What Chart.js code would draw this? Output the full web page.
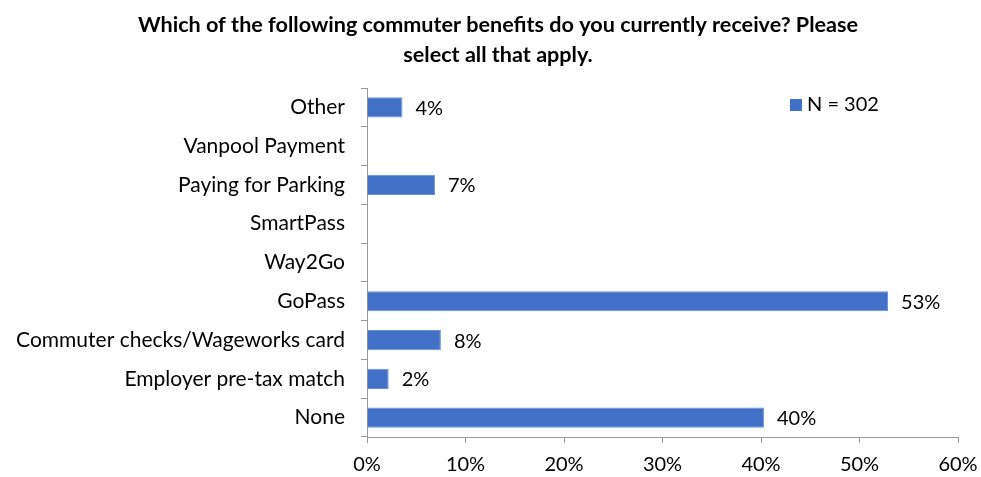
<!DOCTYPE html>
<html lang="en">
<head>
    <meta charset="UTF-8">
    <title>Commuter Benefits</title>
    <script src="https://cdn.jsdelivr.net/npm/chart.js"></script>
    <style>
        html, body { margin: 0; padding: 0; background: #fff; }
        #wrap { width: 981px; height: 477px; }
    </style>
</head>
<body>
    <div id="wrap"><canvas id="benefitsChart" width="981" height="477"></canvas></div>

    <script>
        // data (percent of respondents)
        const categories = ['Other', 'Vanpool Payment', 'Paying for Parking', 'SmartPass', 'Way2Go',
            'GoPass', 'Commuter checks/Wageworks card', 'Employer pre-tax match', 'None'];
        const shares = [3.6, 0, 6.9, 0, 0, 52.9, 7.5, 2.2, 40.3];
        const seriesLabel = 'N = 302';
        const xTicks = [0, 10, 20, 30, 40, 50, 60];
        const titleLines = ['Which of the following commuter benefits do you currently receive? Please',
            'select all that apply.'];

        const FONT = 'Lato, "Open Sans", sans-serif';
        const BAR = '#4270c6';

        // title, centred a little right of the canvas middle like the original
        const offsetTitle = {
            id: 'offsetTitle',
            afterDraw(chart) {
                const ctx = chart.ctx;
                ctx.save();
                ctx.font = 'bold 21.6px ' + FONT;
                ctx.fillStyle = '#000';
                ctx.textAlign = 'center';
                ctx.textBaseline = 'middle';
                titleLines.forEach((t, i) => ctx.fillText(t, 498, 25 + i * 30));
                ctx.restore();
            }
        };

        // value labels next to each bar
        const valueLabels = {
            id: 'valueLabels',
            afterDatasetsDraw(chart) {
                const ctx = chart.ctx;
                const meta = chart.getDatasetMeta(0);
                ctx.save();
                ctx.font = '20px ' + FONT;
                ctx.fillStyle = '#000';
                ctx.textBaseline = 'middle';
                meta.data.forEach((bar, i) => {
                    const v = shares[i];
                    if (!v) return;
                    ctx.fillText(Math.round(v) + '%', bar.x + 13, bar.y + 1);
                });
                ctx.restore();
            }
        };

        // legend drawn inside the plot, top right
        const innerLegend = {
            id: 'innerLegend',
            afterDraw(chart) {
                const ctx = chart.ctx;
                ctx.save();
                ctx.fillStyle = BAR;
                ctx.fillRect(790, 99, 12, 12);
                ctx.font = '20px ' + FONT;
                ctx.fillStyle = '#000';
                ctx.textBaseline = 'middle';
                ctx.fillText(chart.data.datasets[0].label, 807, 105);
                ctx.restore();
            }
        };

        new Chart(document.getElementById('benefitsChart'), {
            type: 'bar',
            data: {
                labels: categories,
                datasets: [{
                    label: seriesLabel,
                    data: shares,
                    backgroundColor: BAR,
                    borderColor: '#6890d8',
                    borderWidth: 1,
                    barPercentage: 0.52,
                    categoryPercentage: 1.0
                }]
            },
            options: {
                indexAxis: 'y',
                responsive: false,
                animation: false,
                layout: { padding: { left: 0, right: 23, top: 88, bottom: 0 } },
                plugins: {
                    legend: { display: false },
                    tooltip: { enabled: false },
                    title: { display: false }
                },
                scales: {
                    x: {
                        min: 0,
                        max: 60,
                        afterBuildTicks: (s) => { s.ticks = xTicks.map(v => ({ value: v })); },
                        afterFit: (s) => { s.height = 40; s.paddingLeft = 0; s.paddingRight = 0; },
                        grid: { drawOnChartArea: false, tickLength: 6, color: '#999' },
                        border: { color: '#999' },
                        ticks: {
                            color: '#000',
                            padding: 10,
                            font: { family: FONT, size: 20 },
                            callback: (v) => v + '%'
                        }
                    },
                    y: {
                        afterFit: (s) => { s.width = 367; s.paddingTop = 0; s.paddingBottom = 0; },
                        grid: { drawOnChartArea: false, offset: true, tickLength: 6, color: '#999' },
                        border: { color: '#999' },
                        ticks: {
                            color: '#000',
                            padding: 16,
                            font: { family: FONT, size: 21 }
                        }
                    }
                }
            },
            plugins: [offsetTitle, valueLabels, innerLegend]
        });
    </script>
</body>
</html>
